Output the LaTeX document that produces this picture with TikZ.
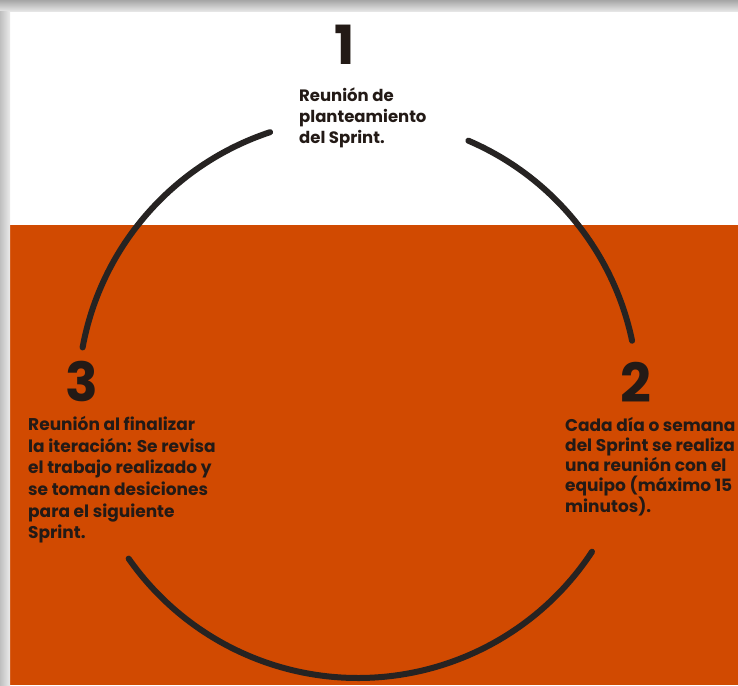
\documentclass[tikz,border=0pt]{standalone}
\usepackage{fontspec}
\setmainfont{Poppins}
\definecolor{bgorange}{HTML}{D14A01}
\definecolor{ink}{HTML}{231A16}
\definecolor{arcc}{HTML}{262322}
\begin{document}
\begin{tikzpicture}[x=1pt,y=1pt,
  bignum/.style={font=\fontsize{54}{54}\selectfont\bfseries, text=ink, inner sep=0pt},
  body/.style={text=ink, align=left, inner sep=0pt, anchor=north west},
  ring/.style={draw=arcc, line width=6pt, line cap=round}]
\useasboundingbox (0,0) rectangle (738,-685);
% background
\fill[white] (0,0) rectangle (738,-685);
\fill[bgorange] (0,-225) rectangle (738,-685);
% shadow edges
\shade[top color=black!35, bottom color=black!8] (0,0) rectangle (738,-12);
\shade[left color=black!25, right color=black!8] (0,-12) rectangle (10,-685);
% ring
\coordinate (c) at (358,-398);
\draw[ring] (c) ++(108.3:280) arc[start angle=108.3, end angle=169.6, radius=280];
\draw[ring] (c) ++(66.8:280) arc[start angle=66.8, end angle=11.8, radius=280];
\draw[ring] (c) ++(215:280) arc[start angle=215, end angle=326.7, radius=280];
% numbers
\node[bignum] (n1) at (345,-45) {1};
\node[bignum] (n2) at (636,-382) {2};
\node[bignum] (n3) at (82,-381) {3};
% texts
\node[body, font=\fontsize{16.5}{21}\selectfont\bfseries] (t1) at (299,-88) {Reunión de\\planteamiento\\del Sprint.};
\node[body, font=\fontsize{17}{20}\selectfont\bfseries] (t2) at (565,-417) {Cada día o semana\\del Sprint se realiza\\una reunión con el\\equipo (máximo 15\\minutos).};
\node[body, font=\fontsize{17}{21.7}\selectfont\bfseries] (t3) at (28,-416) {Reunión al finalizar\\la iteración: Se revisa\\el trabajo realizado y\\se toman desiciones\\para el siguiente\\Sprint.};
\end{tikzpicture}
\end{document}
